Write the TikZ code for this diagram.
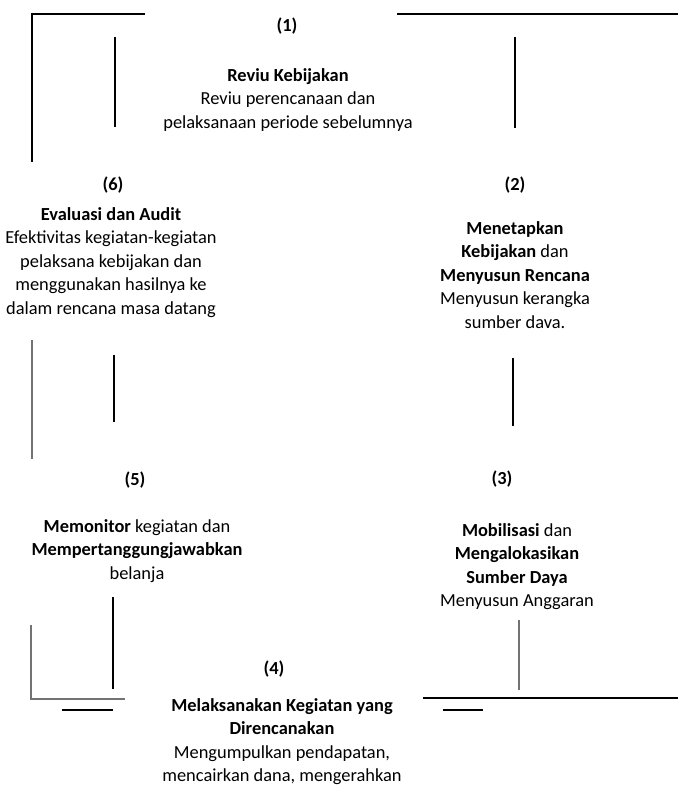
\documentclass[tikz,border=0pt]{standalone}
\usepackage{fontspec}
\setmainfont{Carlito}
\begin{document}
\begin{tikzpicture}[x=1pt,y=-1pt,
  txt/.style={inner sep=0pt, anchor=base, font=\fontsize{18.4}{23.5}\selectfont},
  ln/.style={line width=1.4pt, black},
  lng/.style={line width=1.3pt, black!55}]
\useasboundingbox (0,0) rectangle (678,795);
\clip (0,0) rectangle (678,795);
\fill[white] (0,0) rectangle (678,795);
% line fragments
\coordinate (a1) at (145,14); \coordinate (a2) at (32,14); \coordinate (a3) at (32,162);
\draw[ln] (a1) -- (a2) -- (a3);
\coordinate (b1) at (115,37); \coordinate (b2) at (115,127);
\draw[ln] (b1) -- (b2);
\coordinate (c1) at (397,14); \coordinate (c2) at (678,14);
\draw[ln] (c1) -- (c2);
\coordinate (d1) at (515,37); \coordinate (d2) at (515,128);
\draw[ln] (d1) -- (d2);
\coordinate (e1) at (32,340); \coordinate (e2) at (32,459);
\draw[lng] (e1) -- (e2);
\coordinate (f1) at (114,355); \coordinate (f2) at (114,422);
\draw[ln] (f1) -- (f2);
\coordinate (g1) at (513,358); \coordinate (g2) at (513,426);
\draw[ln] (g1) -- (g2);
\coordinate (h1) at (31,625); \coordinate (h2) at (31,699); \coordinate (h3) at (125,699);
\draw[lng] (h1) -- (h2) -- (h3);
\coordinate (i1) at (113,597); \coordinate (i2) at (113,689);
\draw[ln] (i1) -- (i2);
\coordinate (j1) at (62,710); \coordinate (j2) at (113,710);
\draw[ln] (j1) -- (j2);
\coordinate (k1) at (519,620); \coordinate (k2) at (519,690);
\draw[lng] (k1) -- (k2);
\coordinate (l1) at (423,698); \coordinate (l2) at (678,698);
\draw[ln] (l1) -- (l2);
\coordinate (m1) at (443,710); \coordinate (m2) at (483,710);
\draw[ln] (m1) -- (m2);
% numbers
\node[txt] (n1) at (287,31) {\textbf{(1)}};
\node[txt] (n6) at (113,190) {\textbf{(6)}};
\node[txt] (n2) at (515,190) {\textbf{(2)}};
\node[txt] (n5) at (135,485) {\textbf{(5)}};
\node[txt] (n3) at (502,484) {\textbf{(3)}};
\node[txt] (n4) at (274,674) {\textbf{(4)}};
% blocks
\node[txt] (t1) at (288,81) {\begin{tabular}[t]{@{}c@{}}\textbf{Reviu Kebijakan}\\Reviu perencanaan dan\\pelaksanaan periode sebelumnya\end{tabular}};
\node[txt] (t6) at (111,220) {\begin{tabular}[t]{@{}c@{}}\textbf{Evaluasi dan Audit}\\Efektivitas kegiatan-kegiatan\\pelaksana kebijakan dan\\menggunakan hasilnya ke\\dalam rencana masa datang\end{tabular}};
\node[txt] (t2) at (515,234) {\begin{tabular}[t]{@{}c@{}}\textbf{Menetapkan}\\\textbf{Kebijakan} dan\\\textbf{Menyusun Rencana}\\Menyusun kerangka\\sumber dava.\end{tabular}};
\node[txt] (t5) at (137,532) {\begin{tabular}[t]{@{}c@{}}\textbf{Memonitor} kegiatan dan\\\textbf{Mempertanggungjawabkan}\\belanja\end{tabular}};
\node[txt] (t3) at (517,536) {\begin{tabular}[t]{@{}c@{}}\textbf{Mobilisasi} dan\\\textbf{Mengalokasikan}\\\textbf{Sumber Daya}\\Menyusun Anggaran\end{tabular}};
\node[txt] (t4) at (282,711) {\begin{tabular}[t]{@{}c@{}}\textbf{Melaksanakan Kegiatan yang}\\\textbf{Direncanakan}\\Mengumpulkan pendapatan,\\mencairkan dana, mengerahkan\end{tabular}};
\end{tikzpicture}
\end{document}
